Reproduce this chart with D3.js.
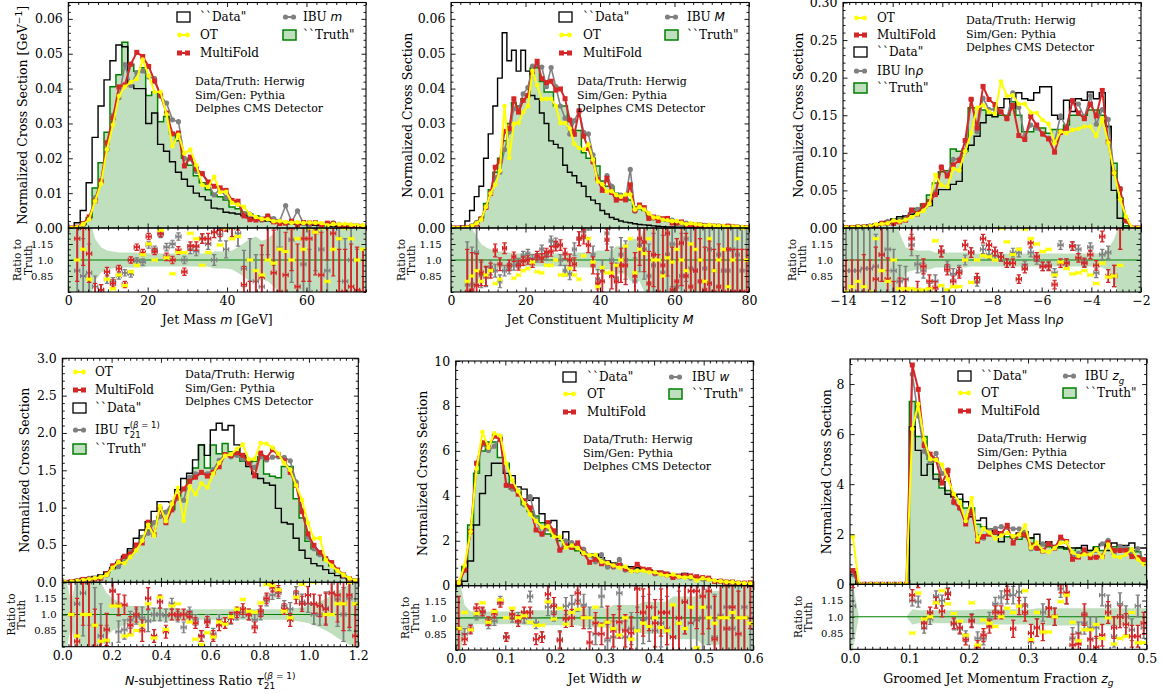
<!DOCTYPE html>
<html>
<head>
<meta charset="utf-8">
<title>Unfolded jet substructure distributions</title>
<script src="https://cdn.jsdelivr.net/npm/d3@7"></script>
<style>
  html, body { margin: 0; padding: 0; background: #fff; }
  svg { display: block; }
</style>
</head>
<body>
<svg id="fig" width="1163" height="694" viewBox="0 0 1163 694"></svg>
<script>
// ---------------- Jet mass m [GeV], 50 bins on [0, 75] ----------------
const massXTicks = [0, 20, 40, 60];
const massYTicks = [0, 0.01, 0.02, 0.03, 0.04, 0.05, 0.06];
const massTruth = [0, 0.0002, 0.001, 0.003, 0.0115, 0.0187, 0.0275, 0.0405, 0.044, 0.0533, 0.047, 0.045, 0.046, 0.038, 0.039, 0.0305, 0.032, 0.027, 0.025, 0.020, 0.018, 0.015, 0.013, 0.011, 0.0095, 0.009, 0.008, 0.006, 0.0055, 0.0045, 0.004, 0.0035, 0.003, 0.0025, 0.002, 0.0018, 0.0016, 0.0015, 0.0014, 0.0013, 0.0012, 0.0012, 0.0011, 0.001, 0.001, 0.0009, 0.0009, 0.0008, 0.0008, 0.0007];
const massData = [0, 0.0015, 0.005, 0.013, 0.026, 0.035, 0.0425, 0.048, 0.0525, 0.052, 0.041, 0.040, 0.040, 0.030, 0.033, 0.024, 0.022, 0.019, 0.016, 0.014, 0.012, 0.010, 0.009, 0.008, 0.0057, 0.0055, 0.0045, 0.0043, 0.004, 0.0035, 0.003, 0.0025, 0.0022, 0.002, 0.0018, 0.0016, 0.0014, 0.0012, 0.0011, 0.001, 0.0009, 0.0008, 0.0007, 0.0006, 0.0005, 0.0005, 0.0004, 0.0003, 0.0003, 0.0002];
const massRatioMF = [null, 1.2, 1.3, 1.06, 0.68, 0.72, 0.89, 0.78, 0.92, 0.77, 1.0, 1.12, 1.07, 1.22, 1.08, 1.25, 1.03, 1.0, 1.09, 0.89, 1.13, 1.13, 1.2, 1.2, 1.26, 1.28, 1.35, 1.32, 1.4, 0.77, 0.6, 0.65, 0.84, 1.35, 0.88, 0.7, 0.86, 1.3, 0.75, 1.2, 1.2, 1.26, 0.86, 1.4, 1.25, 0.7, 0.7, 0.75, 0.72, 0.7];
const massRatioIBU = [null, 0.9, 0.85, 0.88, 0.75, 0.72, 0.82, 0.8, 0.85, 0.88, 0.87, 0.99, 0.98, 1.14, 1.1, 1.24, 1.12, 1.15, 1.22, 1.0, 1.1, 1.08, 1.2, 1.15, 1.0, 1.24, 1.1, 1.3, 1.25, 0.92, 1.0, 0.8, 0.75, 1.4, 1.35, 1.11, 4.0, 1.19, 3.5, 0.96, 0.7, 1.3, 1.1, 0.9, 1.5, 1.2, 0.8, 1.0, 0.7, 0.7];
const massRatioOT = [null, 1.0, 1.1, 0.82, 0.67, 0.68, 0.82, 0.73, 0.86, 0.76, 0.89, 0.95, 1.05, 1.15, 1.0, 1.28, 1.02, 0.87, 1.07, 1.07, 1.25, 1.2, 0.95, 1.07, 1.55, 1.14, 1.3, 1.2, 1.22, 1.35, 1.0, 0.9, 0.86, 1.0, 0.97, 1.1, 1.08, 1.0, 1.2, 1.1, 1.3, 1.26, 1.3, 0.8, 1.1, 1.2, 1.3, 1.2, 1.0, 1.1];
const massErr = [0.4, 0.4, 0.35, 0.27, 0.1, 0.05, 0.04, 0.035, 0.03, 0.03, 0.03, 0.03, 0.03, 0.03, 0.03, 0.03, 0.035, 0.035, 0.035, 0.035, 0.04, 0.04, 0.045, 0.05, 0.05, 0.06, 0.08, 0.1, 0.12, 0.17, 0.2, 0.25, 0.3, 0.35, 0.4, 0.4, 0.4, 0.4, 0.4, 0.4, 0.4, 0.4, 0.4, 0.4, 0.4, 0.4, 0.4, 0.4, 0.4, 0.4];
const massBand = [0.4, 0.4, 0.4, 0.4, 0.2, 0.12, 0.09, 0.08, 0.07, 0.07, 0.07, 0.07, 0.07, 0.06, 0.06, 0.06, 0.06, 0.06, 0.06, 0.06, 0.06, 0.06, 0.06, 0.06, 0.08, 0.08, 0.08, 0.09, 0.12, 0.16, 0.2, 0.22, 0.18, 0.2, 0.25, 0.3, 0.4, 0.4, 0.4, 0.4, 0.4, 0.4, 0.4, 0.4, 0.4, 0.4, 0.4, 0.4, 0.4, 0.4];

// ---------------- Constituent multiplicity M, 64 bins on [0, 80] ----------------
const multXTicks = [0, 20, 40, 60, 80];
const multYTicks = [0, 0.01, 0.02, 0.03, 0.04, 0.05, 0.06];
const multTruth = [0, 0, 0, 0.0002, 0.0007, 0.0015, 0.003, 0.007, 0.011, 0.016, 0.02, 0.025, 0.030, 0.036, 0.035, 0.037, 0.038, 0.046, 0.046, 0.042, 0.039, 0.039, 0.035, 0.035, 0.035, 0.031, 0.028, 0.028, 0.0216, 0.020, 0.02, 0.0178, 0.0135, 0.012, 0.012, 0.010, 0.009, 0.0085, 0.008, 0.006, 0.0055, 0.005, 0.0035, 0.003, 0.003, 0.0028, 0.0022, 0.002, 0.0018, 0.0015, 0.0012, 0.0012, 0.001, 0.001, 0.0008, 0.0007, 0.0007, 0.0006, 0.0005, 0.0005, 0.0004, 0.0003, 0.0002, 0.0001];
const multData = [0, 0, 0.0005, 0.002, 0.005, 0.009, 0.012, 0.020, 0.027, 0.035, 0.043, 0.056, 0.048, 0.051, 0.045, 0.051, 0.045, 0.038, 0.037, 0.033, 0.030, 0.025, 0.024, 0.023, 0.018, 0.016, 0.015, 0.013, 0.012, 0.009, 0.008, 0.007, 0.005, 0.004, 0.003, 0.0025, 0.002, 0.0017, 0.0015, 0.0012, 0.001, 0.0009, 0.0008, 0.0006, 0.0005, 0.0004, 0.0003, 0.0003, 0.0002, 0.0002, 0.0002, 0.0001, 0.0001, 0.0001, 0, 0, 0, 0, 0, 0, 0, 0, 0, 0];
const multRatioMF = [null, null, null, 0.7, 0.72, 0.76, 0.88, 0.85, 0.9, 1.09, 0.96, 1.11, 0.95, 1.03, 0.95, 0.99, 1.0, 0.97, 1.04, 1.02, 1.07, 1.08, 1.13, 1.14, 1.06, 1.0, 0.96, 1.2, 1.22, 1.14, 0.95, 0.78, 0.8, 1.19, 0.85, 0.8, 0.95, 0.95, 1.55, 0.85, 1.2, 1.17, 0.78, 1.05, 0.7, 0.95, 1.25, 0.72, 0.8, 1.16, 0.85, 0.75, 0.9, 0.8, 0.72, 0.78, 0.7, 0.75, 0.7, 1.1, 0.7, 0.7, 0.7, 0.7];
const multRatioIBU = [null, null, null, 0.77, 0.77, 1.07, 0.86, 0.84, 0.93, 0.9, 0.8, 0.9, 0.92, 0.95, 0.97, 1.04, 1.06, 1.01, 1.02, 1.1, 1.04, 1.18, 1.16, 1.0, 0.9, 0.87, 1.1, 1.2, 1.27, 1.35, 1.05, 0.82, 0.9, 1.25, 1.0, 0.83, 1.05, 1.0, 2.1, 0.8, 1.14, 1.1, 0.85, 0.95, 1.0, 0.88, 1.05, 1.15, 0.75, 0.85, 1.2, 0.92, 0.9, 1.0, 0.92, 1.1, 0.9, 1.05, 0.9, 0.9, 1.1, 1.05, 0.9, 1.3];
const multRatioOT = [null, null, null, 0.8, 0.85, 0.9, 0.8, 0.86, 0.9, 0.78, 0.82, 1.4, 0.67, 0.83, 0.86, 0.9, 0.92, 0.98, 0.89, 0.88, 0.95, 0.95, 1.0, 0.86, 0.86, 0.92, 0.86, 0.82, 1.04, 1.2, 0.98, 0.75, 0.93, 0.88, 0.88, 0.95, 1.0, 1.13, 1.2, 0.88, 1.1, 1.06, 1.2, 1.0, 1.0, 0.85, 1.02, 0.98, 1.1, 1.0, 0.9, 1.15, 1.1, 1.0, 0.8, 1.2, 0.9, 1.0, 1.1, 0.75, 1.0, 1.2, 1.3, 1.0];
const multErr = [0.4, 0.4, 0.4, 0.4, 0.35, 0.3, 0.12, 0.09, 0.07, 0.06, 0.06, 0.05, 0.05, 0.045, 0.045, 0.04, 0.04, 0.04, 0.04, 0.04, 0.04, 0.045, 0.045, 0.05, 0.05, 0.055, 0.06, 0.065, 0.07, 0.07, 0.08, 0.09, 0.1, 0.1, 0.12, 0.14, 0.16, 0.18, 0.2, 0.22, 0.25, 0.28, 0.3, 0.3, 0.35, 0.35, 0.4, 0.4, 0.4, 0.4, 0.4, 0.4, 0.4, 0.4, 0.4, 0.4, 0.4, 0.4, 0.4, 0.4, 0.4, 0.4, 0.4, 0.4];
const multBand = [0.4, 0.4, 0.4, 0.4, 0.3, 0.22, 0.15, 0.12, 0.1, 0.08, 0.08, 0.08, 0.07, 0.06, 0.06, 0.06, 0.06, 0.06, 0.06, 0.06, 0.06, 0.06, 0.06, 0.06, 0.06, 0.06, 0.07, 0.07, 0.07, 0.07, 0.07, 0.09, 0.09, 0.09, 0.09, 0.13, 0.13, 0.13, 0.2, 0.2, 0.2, 0.3, 0.3, 0.3, 0.4, 0.4, 0.4, 0.4, 0.4, 0.4, 0.4, 0.4, 0.4, 0.4, 0.4, 0.4, 0.4, 0.4, 0.4, 0.4, 0.4, 0.4, 0.4, 0.4];

// ---------------- Soft drop mass ln(rho), 50 bins on [-14, -2] ----------------
const lnrhoXTicks = [-14, -12, -10, -8, -6, -4, -2];
const lnrhoYTicks = [0, 0.05, 0.10, 0.15, 0.20, 0.25, 0.30];
const lnrhoTruth = [0.001, 0.001, 0.002, 0.002, 0.003, 0.004, 0.006, 0.008, 0.010, 0.012, 0.015, 0.020, 0.026, 0.032, 0.044, 0.060, 0.075, 0.076, 0.105, 0.102, 0.102, 0.160, 0.160, 0.157, 0.150, 0.152, 0.150, 0.150, 0.168, 0.150, 0.128, 0.128, 0.133, 0.133, 0.126, 0.131, 0.131, 0.137, 0.150, 0.150, 0.150, 0.157, 0.157, 0.150, 0.135, 0.086, 0.040, 0.003, 0, 0];
const lnrhoData = [0.001, 0.001, 0.002, 0.003, 0.004, 0.005, 0.007, 0.009, 0.012, 0.015, 0.016, 0.018, 0.022, 0.027, 0.030, 0.045, 0.051, 0.051, 0.058, 0.062, 0.105, 0.110, 0.122, 0.140, 0.150, 0.148, 0.160, 0.172, 0.160, 0.180, 0.172, 0.170, 0.180, 0.188, 0.188, 0.150, 0.145, 0.170, 0.155, 0.172, 0.170, 0.181, 0.172, 0.180, 0.135, 0.050, 0.013, 0, 0, 0];
const lnrhoRatioMF = [0.6, 0.6, 0.6, 0.65, 0.6, 0.82, 1.05, 0.82, 0.6, 0.68, 0.7, 1.2, 0.72, 0.94, 0.8, 0.74, 1.08, 0.91, 0.8, 0.88, 1.14, 1.07, 0.83, 1.2, 1.14, 1.08, 1.03, 0.97, 0.97, 0.82, 0.92, 1.16, 1.03, 0.94, 0.94, 0.77, 0.97, 0.97, 1.13, 1.02, 0.97, 1.05, 0.95, 1.22, 0.85, 0.85, 1.3, 3.3, 1.0, 1.0];
const lnrhoRatioIBU = [0.9, 0.9, 0.9, 0.92, 0.92, 0.94, 1.05, 1.1, 0.9, 0.8, 0.82, 1.14, 0.96, 0.9, 0.72, 0.8, 1.08, 0.94, 0.87, 0.9, 1.0, 1.07, 0.8, 1.1, 1.05, 1.04, 1.03, 0.97, 1.07, 1.07, 0.95, 1.07, 1.0, 0.94, 0.95, 0.88, 1.14, 0.97, 1.13, 1.1, 0.98, 1.12, 0.88, 1.05, 1.07, 0.85, 1.3, 3.0, 1.0, 1.0];
const lnrhoRatioOT = [0.7, 0.75, 0.8, 0.75, 0.7, 1.2, 0.9, 0.8, 1.0, 0.73, 0.73, 0.73, 0.72, 0.72, 0.73, 1.18, 0.76, 0.72, 0.75, 0.75, 1.0, 0.79, 1.0, 1.04, 1.03, 1.0, 1.3, 1.17, 1.05, 1.1, 1.29, 1.2, 1.15, 1.08, 1.1, 0.86, 0.98, 0.92, 0.87, 0.88, 0.9, 0.86, 0.78, 0.97, 0.84, 0.85, 0.95, 5.0, 1.0, 1.0];
const lnrhoErr = [0.4, 0.4, 0.4, 0.4, 0.4, 0.3, 0.25, 0.2, 0.2, 0.15, 0.12, 0.1, 0.08, 0.07, 0.06, 0.06, 0.05, 0.05, 0.05, 0.05, 0.045, 0.045, 0.045, 0.04, 0.04, 0.04, 0.04, 0.04, 0.04, 0.04, 0.04, 0.04, 0.04, 0.04, 0.04, 0.04, 0.04, 0.04, 0.04, 0.04, 0.04, 0.04, 0.045, 0.05, 0.06, 0.1, 0.2, 0.4, 0.4, 0.4];
const lnrhoBand = [0.4, 0.4, 0.4, 0.4, 0.4, 0.4, 0.4, 0.4, 0.4, 0.25, 0.12, 0.1, 0.09, 0.09, 0.09, 0.07, 0.07, 0.07, 0.07, 0.07, 0.07, 0.06, 0.06, 0.06, 0.06, 0.06, 0.06, 0.06, 0.06, 0.06, 0.06, 0.06, 0.06, 0.06, 0.06, 0.06, 0.06, 0.06, 0.06, 0.06, 0.06, 0.06, 0.06, 0.07, 0.1, 0.2, 0.35, 0.4, 0.4, 0.4];

// ---------------- N-subjettiness ratio tau21, 50 bins on [0, 1.2] ----------------
const tauXTicks = [0, 0.2, 0.4, 0.6, 0.8, 1.0, 1.2];
const tauYTicks = [0, 0.5, 1.0, 1.5, 2.0, 2.5, 3.0];
const tauTruth = [0, 0.01, 0.02, 0.03, 0.04, 0.06, 0.09, 0.13, 0.18, 0.25, 0.32, 0.42, 0.50, 0.62, 0.70, 0.80, 0.88, 0.95, 0.97, 1.15, 1.25, 1.38, 1.53, 1.84, 1.53, 1.84, 1.72, 1.86, 1.75, 1.70, 1.62, 1.60, 1.62, 1.68, 1.45, 1.42, 1.40, 1.55, 1.55, 1.12, 0.86, 0.55, 0.45, 0.37, 0.30, 0.22, 0.14, 0.09, 0.04, 0.02];
const tauData = [0.01, 0.02, 0.03, 0.05, 0.06, 0.08, 0.10, 0.14, 0.20, 0.27, 0.35, 0.45, 0.59, 0.70, 0.81, 0.95, 1.08, 1.08, 1.07, 1.24, 1.39, 1.46, 1.64, 1.84, 1.70, 2.04, 2.13, 2.04, 2.10, 1.84, 1.70, 1.55, 1.45, 1.39, 1.33, 1.30, 0.99, 0.80, 0.78, 0.59, 0.43, 0.32, 0.25, 0.22, 0.17, 0.12, 0.09, 0.06, 0.04, 0.02];
const tauRatioMF = [null, 1.0, 0.75, 1.3, 1.0, 0.7, 0.6, 0.86, 1.22, 1.09, 1.09, 0.9, 1.0, 0.85, 1.15, 0.8, 1.12, 0.84, 1.0, 1.0, 1.0, 0.98, 0.92, 0.8, 0.93, 0.8, 0.9, 0.92, 0.97, 1.02, 1.05, 1.0, 0.88, 1.03, 1.15, 1.25, 1.22, 1.05, 0.95, 1.16, 1.1, 1.18, 1.1, 1.08, 1.05, 1.2, 1.18, 1.1, 1.18, 0.8];
const tauRatioIBU = [null, 1.0, 1.1, 1.2, 1.3, 0.9, 0.8, 0.75, 1.22, 0.84, 0.86, 0.95, 0.98, 0.97, 0.94, 1.0, 1.0, 0.99, 1.1, 0.98, 0.88, 1.02, 0.95, 0.8, 0.95, 0.82, 0.95, 0.92, 0.96, 1.0, 1.02, 1.0, 0.95, 1.0, 1.13, 1.18, 1.2, 1.08, 1.05, 1.2, 1.12, 1.1, 1.0, 1.0, 1.06, 1.2, 1.14, 1.0, 1.15, 1.1];
const tauRatioOT = [null, 1.0, 0.8, 1.0, 1.0, 0.9, 0.75, 0.76, 1.08, 1.08, 0.8, 0.81, 0.85, 0.9, 1.1, 0.78, 1.16, 0.86, 1.08, 1.1, 0.66, 0.93, 0.77, 0.72, 0.83, 0.79, 0.93, 0.91, 0.98, 1.05, 1.14, 1.03, 1.02, 1.11, 1.28, 1.27, 1.23, 1.03, 0.97, 1.16, 1.28, 1.45, 1.3, 1.6, 1.0, 1.0, 1.1, 1.1, 1.3, 1.1];
const tauErr = [0.4, 0.4, 0.4, 0.4, 0.4, 0.35, 0.3, 0.15, 0.14, 0.1, 0.09, 0.08, 0.07, 0.1, 0.1, 0.06, 0.06, 0.06, 0.05, 0.05, 0.05, 0.05, 0.05, 0.05, 0.05, 0.05, 0.05, 0.05, 0.05, 0.05, 0.05, 0.05, 0.05, 0.05, 0.05, 0.04, 0.05, 0.05, 0.06, 0.06, 0.07, 0.08, 0.09, 0.1, 0.15, 0.2, 0.25, 0.25, 0.3, 0.3];
const tauBand = [0.4, 0.1, 0.4, 0.4, 0.4, 0.4, 0.3, 0.2, 0.15, 0.12, 0.1, 0.08, 0.08, 0.08, 0.08, 0.06, 0.06, 0.06, 0.06, 0.06, 0.05, 0.05, 0.05, 0.05, 0.05, 0.05, 0.05, 0.05, 0.05, 0.05, 0.05, 0.05, 0.05, 0.05, 0.05, 0.05, 0.05, 0.05, 0.06, 0.06, 0.07, 0.08, 0.1, 0.12, 0.15, 0.18, 0.22, 0.25, 0.28, 0.3];

// ---------------- Jet width w, 50 bins on [0, 0.6] ----------------
const widthXTicks = [0, 0.1, 0.2, 0.3, 0.4, 0.5, 0.6];
const widthYTicks = [0, 2, 4, 6, 8, 10];
const widthTruth = [0.15, 0.86, 2.7, 5.0, 6.0, 6.4, 6.4, 5.7, 5.45, 4.3, 4.2, 3.6, 3.3, 3.1, 2.8, 2.3, 2.2, 2.0, 1.8, 1.7, 1.55, 1.45, 1.35, 1.25, 1.15, 1.05, 1.0, 0.95, 0.85, 0.8, 0.75, 0.7, 0.65, 0.6, 0.55, 0.5, 0.45, 0.42, 0.4, 0.35, 0.32, 0.3, 0.27, 0.24, 0.2, 0.17, 0.15, 0.13, 0.11, 0.1];
const widthData = [0.05, 0.2, 1.1, 2.7, 4.1, 4.9, 5.45, 5.45, 5.0, 4.9, 4.4, 4.3, 3.8, 3.9, 3.2, 2.8, 2.9, 2.1, 2.4, 1.8, 1.7, 1.45, 1.4, 1.4, 1.25, 1.1, 1.0, 0.95, 0.85, 0.85, 0.8, 0.75, 0.7, 0.65, 0.6, 0.55, 0.45, 0.5, 0.55, 0.4, 0.35, 0.33, 0.3, 0.27, 0.23, 0.2, 0.17, 0.15, 0.13, 0.12];
const widthRatioMF = [0.9, 0.8, 0.89, 1.09, 1.06, 0.97, 1.04, 1.14, 0.82, 1.03, 0.97, 1.05, 1.05, 0.80, 0.82, 1.22, 1.11, 0.79, 0.99, 1.0, 1.23, 1.0, 0.77, 0.95, 0.85, 0.96, 0.88, 0.96, 0.88, 0.86, 1.27, 1.05, 1.1, 0.95, 1.05, 1.05, 0.82, 1.0, 1.15, 1.25, 1.25, 1.2, 1.25, 0.8, 1.0, 0.9, 1.1, 0.85, 1.0, 1.3];
const widthRatioIBU = [0.9, 0.85, 0.9, 1.02, 1.05, 0.94, 0.97, 1.16, 0.82, 1.0, 1.0, 1.0, 1.2, 0.95, 0.82, 1.1, 1.05, 0.8, 1.11, 1.13, 1.16, 1.12, 1.0, 0.85, 1.2, 0.79, 0.82, 1.23, 0.82, 0.9, 0.88, 0.98, 1.0, 0.88, 0.95, 0.9, 0.82, 0.95, 1.15, 0.95, 0.98, 1.0, 1.1, 0.82, 1.02, 1.1, 0.9, 1.0, 1.1, 1.0];
const widthRatioOT = [0.9, 1.05, 0.89, 1.04, 1.14, 0.96, 1.06, 1.17, 1.0, 1.09, 1.0, 1.02, 0.96, 0.93, 0.93, 1.15, 0.99, 1.09, 0.94, 1.05, 1.08, 1.0, 1.0, 1.1, 0.93, 0.96, 0.9, 0.84, 1.0, 0.8, 0.88, 0.95, 0.92, 1.0, 0.91, 0.88, 1.12, 0.95, 0.9, 1.1, 0.72, 1.1, 1.0, 0.95, 1.0, 1.0, 1.05, 1.0, 1.0, 0.95];
const widthErr = [0.3, 0.05, 0.04, 0.04, 0.04, 0.04, 0.04, 0.04, 0.04, 0.04, 0.05, 0.05, 0.05, 0.05, 0.05, 0.08, 0.08, 0.08, 0.08, 0.08, 0.1, 0.1, 0.1, 0.1, 0.1, 0.15, 0.15, 0.15, 0.15, 0.15, 0.22, 0.22, 0.22, 0.22, 0.22, 0.3, 0.3, 0.3, 0.3, 0.3, 0.35, 0.35, 0.35, 0.4, 0.4, 0.4, 0.4, 0.4, 0.4, 0.4];
const widthBand = [0.4, 0.12, 0.06, 0.06, 0.06, 0.06, 0.06, 0.06, 0.06, 0.06, 0.06, 0.07, 0.07, 0.07, 0.07, 0.07, 0.07, 0.07, 0.07, 0.07, 0.07, 0.09, 0.09, 0.09, 0.09, 0.09, 0.12, 0.12, 0.12, 0.12, 0.12, 0.15, 0.15, 0.15, 0.15, 0.15, 0.2, 0.2, 0.2, 0.2, 0.2, 0.25, 0.25, 0.25, 0.25, 0.35, 0.35, 0.35, 0.35, 0.35];

// ---------------- Groomed momentum fraction z_g, 50 bins on [0, 0.5] ----------------
const zgXTicks = [0, 0.1, 0.2, 0.3, 0.4, 0.5];
const zgYTicks = [0, 2, 4, 6, 8];
const zgTruth = [0.35, 0, 0, 0, 0, 0, 0, 0, 0, 0, 7.3, 5.9, 5.9, 5.0, 4.4, 3.85, 3.75, 3.5, 3.4, 3.05, 3.05, 2.4, 2.3, 2.2, 2.0, 1.95, 1.9, 1.85, 1.8, 1.9, 1.85, 1.6, 1.55, 1.5, 1.45, 1.45, 1.4, 1.35, 1.45, 1.35, 1.35, 1.5, 1.35, 1.6, 1.5, 1.35, 1.45, 1.35, 1.3, 1.05];
const zgData = [0.5, 0, 0, 0, 0, 0, 0, 0, 0, 0, 6.3, 5.35, 4.35, 4.8, 4.2, 4.1, 3.6, 3.5, 3.6, 3.3, 2.7, 2.55, 2.65, 2.2, 2.1, 1.7, 2.0, 1.95, 2.05, 2.1, 1.85, 2.0, 1.6, 1.7, 1.55, 1.5, 1.45, 1.45, 1.45, 1.55, 1.35, 1.45, 1.6, 1.35, 1.65, 1.55, 1.55, 1.65, 1.45, 1.45];
const zgRatioMF = [1.57, null, null, null, null, null, null, null, null, null, 1.2, 1.32, 0.94, 1.04, 1.13, 1.05, 1.21, 0.94, 0.9, 0.79, 0.96, 0.72, 0.83, 0.91, 1.04, 1.04, 1.24, 0.89, 1.1, 1.04, 0.85, 0.9, 0.86, 1.08, 1.0, 1.3, 1.22, 0.74, 0.75, 1.02, 0.79, 0.72, 0.83, 1.04, 0.9, 1.0, 0.93, 0.82, 0.82, 0.94];
const zgRatioIBU = [1.1, null, null, null, null, null, null, null, null, null, 1.15, 1.14, 0.9, 0.98, 1.19, 1.15, 1.22, 0.93, 0.89, 0.82, 0.97, 0.8, 0.8, 0.98, 1.12, 1.18, 1.2, 1.2, 1.23, 1.1, 0.77, 0.9, 1.04, 1.08, 1.0, 1.26, 1.22, 0.8, 0.85, 0.94, 0.9, 0.9, 1.2, 1.1, 0.82, 1.12, 1.0, 0.88, 1.1, 0.9];
const zgRatioOT = [5.4, null, null, null, null, null, null, null, null, null, 0.85, 1.22, 0.98, 1.0, 1.13, 1.24, 1.12, 1.03, 0.96, 0.83, 1.13, 0.74, 0.97, 0.94, 0.91, 1.0, 1.08, 1.04, 1.1, 1.24, 0.79, 1.04, 0.86, 0.86, 1.0, 1.14, 1.2, 0.95, 0.78, 0.88, 0.88, 0.93, 0.8, 0.99, 0.75, 0.8, 0.82, 1.04, 0.76, 0.76];
const zgErr = [0.3, null, null, null, null, null, null, null, null, null, 0.05, 0.05, 0.05, 0.05, 0.05, 0.05, 0.05, 0.05, 0.05, 0.05, 0.06, 0.06, 0.06, 0.06, 0.06, 0.06, 0.08, 0.08, 0.08, 0.08, 0.08, 0.08, 0.08, 0.08, 0.08, 0.08, 0.1, 0.1, 0.1, 0.1, 0.1, 0.1, 0.1, 0.1, 0.1, 0.1, 0.1, 0.1, 0.1, 0.1];
const zgBand = [0.3, 0, null, null, null, null, null, null, null, 0, 0.07, 0.06, 0.06, 0.06, 0.06, 0.06, 0.06, 0.06, 0.06, 0.06, 0.06, 0.07, 0.07, 0.07, 0.07, 0.07, 0.07, 0.07, 0.07, 0.07, 0.07, 0.08, 0.08, 0.08, 0.08, 0.08, 0.08, 0.08, 0.08, 0.08, 0.08, 0.08, 0.08, 0.08, 0.08, 0.08, 0.08, 0.08, 0.08, 0.08];

const ratioTicks = [0.85, 1.0, 1.15];
const infoLines = ['Data/Truth: Herwig', 'Sim/Gen: Pythia', 'Delphes CMS Detector'];

// ---------------- styling ----------------
const SERIF = "'DejaVu Serif', 'Liberation Serif', serif";
const SANS = "'DejaVu Sans', 'Liberation Sans', sans-serif";
const COL = { fill: '#bfdfbf', edge: '#008000', red: '#d62728', gray: '#808080', yellow: '#ffff00', black: '#000' };

const svg = d3.select('#fig');
const defs = svg.append('defs');
const meter = svg.append('text').attr('x', -2000).attr('y', -2000);
const keepSpaces = t => t.replace(/ /g, '\u00a0');

function textWidth(t, fam, size, it) {
  meter.attr('font-family', fam).attr('font-size', size).attr('font-style', it ? 'italic' : 'normal').text(t);
  return meter.node().getComputedTextLength();
}

// Text made of runs (serif words, sans italic math symbols, sub/superscripts).
function rich(parent, x, y, segs, opt = {}) {
  const base = opt.size || 12.5;
  let lastEnd = 0, stackStart = 0, total = 0;
  const laid = segs.map(s => {
    const fam = s.fam || SERIF, size = s.size || base, t = keepSpaces(s.t);
    const x0 = s.stack ? stackStart : lastEnd;
    if (s.mark) stackStart = x0;
    lastEnd = x0 + textWidth(t, fam, size, s.it);
    total = Math.max(total, lastEnd);
    return Object.assign({}, s, { t, fam, size, x0 });
  });
  const off = opt.anchor === 'middle' ? -total / 2 : opt.anchor === 'end' ? -total : 0;
  const grp = parent.append('g')
    .attr('transform', `translate(${x},${y})` + (opt.rotate ? ` rotate(${opt.rotate})` : ''));
  grp.selectAll('text').data(laid).join('text')
    .attr('x', d => d.x0 + off).attr('y', d => d.dy || 0)
    .attr('font-family', d => d.fam).attr('font-size', d => d.size)
    .attr('font-style', d => d.it ? 'italic' : 'normal')
    .attr('fill', '#000').text(d => d.t);
  return grp;
}

const sub = (t, extra = {}) => Object.assign({ t, fam: SANS, size: 8.5, dy: 3.5, mark: true }, extra);
const tauSym = size => [
  { t: 'τ', fam: SANS, it: true },
  { t: '21', fam: SANS, size: size, dy: 4, mark: true },
  { t: '(', fam: SANS, size: size, dy: -6, stack: true },
  { t: 'β', fam: SANS, size: size, dy: -6, it: true },
  { t: ' = 1)', fam: SANS, size: size, dy: -6 }
];

const panels = [
  {
    lo: 0, hi: 75, truth: massTruth, data: massData, mf: massRatioMF, ibu: massRatioIBU, ot: massRatioOT, err: massErr, band: massBand,
    box: { x0: 68.3, x1: 366, top: 2.5, mid: 228, bot: 292 }, yMax: 0.0647,
    yTicks: massYTicks, yFmt: d3.format('.2f'), yMinor: 0.002, xTicks: massXTicks, xFmt: d3.format('d'), xMinor: 2.5,
    rPad: 15, yLabX: 22, rLabX: 17.5, xLabY: 323.8,
    yLab: [{ t: 'Normalized Cross Section [GeV' }, { t: '−1', fam: SANS, size: 9, dy: -5 }, { t: ']' }],
    xLab: [{ t: 'Jet Mass ' }, { t: 'm', fam: SANS, it: true }, { t: ' [GeV]' }],
    ibuLab: [{ t: 'IBU ' }, { t: 'm', fam: SANS, it: true }],
    legend: [{ hx: 177, tx: 200, rows: [['data', 17], ['ot', 35], ['mf', 53]] }, { hx: 283, tx: 303, rows: [['ibu', 17], ['truth', 35]] }],
    info: { x: 195, y: 85 }
  },
  {
    lo: 0, hi: 80, truth: multTruth, data: multData, mf: multRatioMF, ibu: multRatioIBU, ot: multRatioOT, err: multErr, band: multBand,
    box: { x0: 451, x1: 749, top: 2.5, mid: 228, bot: 292 }, yMax: 0.0647,
    yTicks: multYTicks, yFmt: d3.format('.2f'), yMinor: 0.002, xTicks: multXTicks, xFmt: d3.format('d'), xMinor: 2.5,
    rPad: 9.3, yLabX: 407, rLabX: 401, xLabY: 323.8,
    yLab: [{ t: 'Normalized Cross Section' }],
    xLab: [{ t: 'Jet Constituent Multiplicity ' }, { t: 'M', fam: SANS, it: true }],
    ibuLab: [{ t: 'IBU ' }, { t: 'M', fam: SANS, it: true }],
    legend: [{ hx: 559, tx: 583, rows: [['data', 17], ['ot', 35], ['mf', 53]] }, { hx: 665, tx: 687, rows: [['ibu', 17], ['truth', 35]] }],
    info: { x: 577, y: 85 }
  },
  {
    lo: -14, hi: -2, truth: lnrhoTruth, data: lnrhoData, mf: lnrhoRatioMF, ibu: lnrhoRatioIBU, ot: lnrhoRatioOT, err: lnrhoErr, band: lnrhoBand,
    box: { x0: 843, x1: 1141, top: 2.5, mid: 228, bot: 292 }, yMax: 0.30,
    yTicks: lnrhoYTicks, yFmt: d3.format('.2f'), yMinor: 0.01, xTicks: lnrhoXTicks, xFmt: d3.format('d'), xMinor: 0.25,
    rPad: 10, yLabX: 798, rLabX: 792, xLabY: 323.8,
    yLab: [{ t: 'Normalized Cross Section' }],
    xLab: [{ t: 'Soft Drop Jet Mass ' }, { t: 'ln', fam: SANS }, { t: 'ρ', fam: SANS, it: true }],
    ibuLab: [{ t: 'IBU ' }, { t: 'ln', fam: SANS }, { t: 'ρ', fam: SANS, it: true }],
    legend: [{ hx: 854, tx: 877, rows: [['ot', 18], ['mf', 35], ['data', 52], ['ibu', 71], ['truth', 88]] }],
    info: { x: 966, y: 24 }
  },
  {
    lo: 0, hi: 1.2, truth: tauTruth, data: tauData, mf: tauRatioMF, ibu: tauRatioIBU, ot: tauRatioOT, err: tauErr, band: tauBand,
    box: { x0: 62.3, x1: 358.3, top: 358.3, mid: 582.3, bot: 646.7 }, yMax: 3.0,
    yTicks: tauYTicks, yFmt: d3.format('.1f'), yMinor: 0.1, xTicks: tauXTicks, xFmt: d3.format('.1f'), xMinor: 0.025,
    rPad: 5.7, yLabX: 24, rLabX: 11, xLabY: 684.5,
    yLab: [{ t: 'Normalized Cross Section' }],
    xLab: [{ t: 'N', fam: SANS, it: true }, { t: '-subjettiness Ratio ' }].concat(tauSym(9)),
    ibuLab: [{ t: 'IBU ' }].concat(tauSym(8.5)),
    legend: [{ hx: 73, tx: 95, rows: [['ot', 372], ['mf', 390], ['data', 408], ['ibu', 430], ['truth', 449]] }],
    info: { x: 185, y: 378 }
  },
  {
    lo: 0, hi: 0.6, truth: widthTruth, data: widthData, mf: widthRatioMF, ibu: widthRatioIBU, ot: widthRatioOT, err: widthErr, band: widthBand,
    box: { x0: 455.7, x1: 753.3, top: 361, mid: 585.7, bot: 650 }, yMax: 10,
    yTicks: widthYTicks, yFmt: d3.format('d'), yMinor: 0.4, xTicks: widthXTicks, xFmt: d3.format('.1f'), xMinor: 0.0125,
    rPad: 9, yLabX: 422, rLabX: 405, xLabY: 682.5,
    yLab: [{ t: 'Normalized Cross Section' }],
    xLab: [{ t: 'Jet Width ' }, { t: 'w', fam: SANS, it: true }],
    ibuLab: [{ t: 'IBU ' }, { t: 'w', fam: SANS, it: true }],
    legend: [{ hx: 563, tx: 587, rows: [['data', 377], ['ot', 394], ['mf', 412]] }, { hx: 669, tx: 692, rows: [['ibu', 377], ['truth', 394]] }],
    info: { x: 583, y: 443 }
  },
  {
    lo: 0, hi: 0.5, truth: zgTruth, data: zgData, mf: zgRatioMF, ibu: zgRatioIBU, ot: zgRatioOT, err: zgErr, band: zgBand,
    box: { x0: 850, x1: 1146.7, top: 359, mid: 584.3, bot: 649.3 }, yMax: 9,
    yTicks: zgYTicks, yFmt: d3.format('d'), yMinor: 0.4, xTicks: zgXTicks, xFmt: d3.format('.1f'), xMinor: 0.0125,
    rPad: 6.7, yLabX: 826, rLabX: 798, xLabY: 682.5,
    yLab: [{ t: 'Normalized Cross Section' }],
    xLab: [{ t: 'Groomed Jet Momentum Fraction ' }, { t: 'z', fam: SANS, it: true }, sub('g', { it: true, size: 9 })],
    ibuLab: [{ t: 'IBU ' }, { t: 'z', fam: SANS, it: true }, sub('g', { it: true })],
    legend: [{ hx: 958, tx: 981, rows: [['data', 376], ['ot', 393], ['mf', 411]] }, { hx: 1063, tx: 1085, rows: [['ibu', 376], ['truth', 393]] }],
    info: { x: 977, y: 442 }
  }
];

function minorValues(lo, hi, step, majors) {
  const k0 = Math.ceil(lo / step - 1e-9), k1 = Math.floor(hi / step + 1e-9);
  return d3.range(k0, k1 + 1).map(k => k * step)
    .filter(v => !majors.some(m => Math.abs(m - v) < step * 1e-3));
}

function axisPart(g, maker, scale, vals, size, tx, ty, fmt, pad, fs) {
  const ax = maker(scale).tickValues(vals).tickSize(size).tickPadding(pad || 0)
    .tickFormat(fmt || (() => ''));
  const a = g.append('g').attr('transform', `translate(${tx},${ty})`).call(ax);
  a.select('.domain').remove();
  a.selectAll('line').attr('stroke', '#000').attr('stroke-width', 0.9);
  a.selectAll('text').attr('font-family', SERIF).attr('font-size', fs || 12.5).attr('fill', '#000');
  return a;
}

function square(sel, cx, cy, s, color) {
  sel.append('rect').attr('x', cx - s / 2).attr('y', cy - s / 2).attr('width', s).attr('height', s).attr('fill', color);
}

function legendHandle(g, type, hx, cy) {
  if (type === 'data') {
    g.append('rect').attr('x', hx).attr('y', cy - 5).attr('width', 13).attr('height', 10)
      .attr('fill', '#fff').attr('stroke', COL.black).attr('stroke-width', 1.3);
  } else if (type === 'truth') {
    g.append('rect').attr('x', hx).attr('y', cy - 5).attr('width', 13).attr('height', 10)
      .attr('fill', COL.fill).attr('stroke', COL.edge).attr('stroke-width', 1.5);
  } else {
    const color = type === 'ot' ? COL.yellow : type === 'mf' ? COL.red : COL.gray;
    g.append('line').attr('x1', hx + 2).attr('x2', hx + 11).attr('y1', cy).attr('y2', cy)
      .attr('stroke', color).attr('stroke-width', 2);
    [hx + 2.5, hx + 10.5].forEach(mx => {
      if (type === 'mf') square(g, mx, cy, 5, color);
      else g.append('circle').attr('cx', mx).attr('cy', cy).attr('r', type === 'ot' ? 2.4 : 2.6).attr('fill', color);
    });
  }
}

panels.forEach((p, idx) => {
  const n = p.truth.length, bw = (p.hi - p.lo) / n;
  const edges = d3.range(n + 1).map(i => p.lo + i * bw);
  const centers = d3.range(n).map(i => p.lo + (i + 0.5) * bw);
  const b = p.box;
  const x = d3.scaleLinear().domain([p.lo, p.hi]).range([b.x0, b.x1]);
  const y = d3.scaleLinear().domain([0, p.yMax]).range([b.mid, b.top]);
  const ry = d3.scaleLinear().domain([0.7, 1.3]).range([b.bot, b.mid]);
  const g = svg.append('g');

  defs.append('clipPath').attr('id', `cm${idx}`).append('rect')
    .attr('x', b.x0).attr('y', b.top).attr('width', b.x1 - b.x0).attr('height', b.mid - b.top);
  defs.append('clipPath').attr('id', `cr${idx}`).append('rect')
    .attr('x', b.x0).attr('y', b.mid).attr('width', b.x1 - b.x0).attr('height', b.bot - b.mid);

  // ---- main panel: histograms and unfolded curves ----
  const main = g.append('g').attr('clip-path', `url(#cm${idx})`);
  const stepPts = vals => [[p.lo, 0]].concat(vals.map((v, i) => [edges[i], v]), [[p.hi, vals[n - 1]], [p.hi, 0]]);
  const stepArea = d3.area().curve(d3.curveStepAfter).x(d => x(d[0])).y0(y(0)).y1(d => y(d[1]));
  const stepLine = d3.line().curve(d3.curveStepAfter).x(d => x(d[0])).y(d => y(d[1]));
  main.append('path').attr('d', stepArea(stepPts(p.truth))).attr('fill', COL.fill);
  main.append('path').attr('d', stepLine(stepPts(p.truth))).attr('fill', 'none')
    .attr('stroke', COL.edge).attr('stroke-width', 1.5);
  main.append('path').attr('d', stepLine(stepPts(p.data))).attr('fill', 'none')
    .attr('stroke', COL.black).attr('stroke-width', 1.4);

  const unfolded = r => p.truth.map((t, i) => (t > 0 && r[i] != null) ? t * r[i] : 0);
  const curve = d3.line().x((d, i) => x(centers[i])).y(d => y(d));
  const series = [
    { vals: unfolded(p.ibu), color: COL.gray, w: 1.6, mark: 'c', r: 2.6 },
    { vals: unfolded(p.mf), color: COL.red, w: 2.0, mark: 's', r: 5 },
    { vals: unfolded(p.ot), color: COL.yellow, w: 2.0, mark: 'c', r: 2.3 }
  ];
  series.forEach(s => {
    main.append('path').attr('d', curve(s.vals)).attr('fill', 'none')
      .attr('stroke', s.color).attr('stroke-width', s.w).attr('stroke-linejoin', 'round');
    const pts = s.vals.map((v, i) => ({ cx: x(centers[i]), cy: y(v) }));
    if (s.mark === 's') {
      main.append('g').selectAll('rect').data(pts).join('rect')
        .attr('x', d => d.cx - s.r / 2).attr('y', d => d.cy - s.r / 2)
        .attr('width', s.r).attr('height', s.r).attr('fill', s.color);
    } else {
      main.append('g').selectAll('circle').data(pts).join('circle')
        .attr('cx', d => d.cx).attr('cy', d => d.cy).attr('r', s.r).attr('fill', s.color);
    }
  });

  // ---- ratio panel ----
  const rat = g.append('g').attr('clip-path', `url(#cr${idx})`);
  const bandPts = [];
  p.band.forEach((h, i) => {
    if (h == null) { bandPts.push(null); return; }
    if (i === 0) bandPts.push({ v: p.lo, h });
    bandPts.push({ v: centers[i], h });
    if (i === n - 1) bandPts.push({ v: p.hi, h });
  });
  const bandArea = d3.area().defined(d => d !== null)
    .x(d => x(d.v)).y0(d => ry(1 - d.h)).y1(d => ry(1 + d.h));
  rat.append('path').attr('d', bandArea(bandPts)).attr('fill', COL.fill);
  rat.append('line').attr('x1', b.x0).attr('x2', b.x1).attr('y1', ry(1)).attr('y2', ry(1))
    .attr('stroke', COL.edge).attr('stroke-width', 1.1);

  const errPoints = r => d3.range(n)
    .filter(i => r[i] != null && p.truth[i] > 0)
    .map(i => ({ xl: x(edges[i]) + 0.4, xr: x(edges[i + 1]) - 0.4, xc: x(centers[i]), r: r[i], e: p.err[i] }));

  function drawErr(r, color, withY, hw) {
    const pts = errPoints(r);
    const eg = rat.append('g').attr('stroke', color).attr('fill', 'none');
    eg.selectAll('line.h').data(pts).join('line').attr('class', 'h')
      .attr('x1', d => d.xl).attr('x2', d => d.xr).attr('y1', d => ry(d.r)).attr('y2', d => ry(d.r))
      .attr('stroke-width', hw);
    eg.selectAll('path.xc').data(pts).join('path').attr('class', 'xc')
      .attr('d', d => `M${d.xl},${ry(d.r) - 2.2}V${ry(d.r) + 2.2}M${d.xr},${ry(d.r) - 2.2}V${ry(d.r) + 2.2}`)
      .attr('stroke-width', 1.2);
    if (withY) {
      const yp = pts.filter(d => d.e != null);
      eg.selectAll('line.v').data(yp).join('line').attr('class', 'v')
        .attr('x1', d => d.xc).attr('x2', d => d.xc)
        .attr('y1', d => ry(d.r - d.e)).attr('y2', d => ry(d.r + d.e)).attr('stroke-width', 1.8);
      eg.selectAll('path.yc').data(yp).join('path').attr('class', 'yc')
        .attr('d', d => `M${d.xc - 2.2},${ry(d.r - d.e)}H${d.xc + 2.2}M${d.xc - 2.2},${ry(d.r + d.e)}H${d.xc + 2.2}`)
        .attr('stroke-width', 1.2);
    }
  }
  drawErr(p.ibu, COL.gray, true, 1.8);
  drawErr(p.mf, COL.red, true, 1.8);
  drawErr(p.ot, COL.yellow, false, 3);

  // ---- ticks (inward on all sides) ----
  const ax = svg.append('g');
  const yMin = minorValues(0, p.yMax, p.yMinor, p.yTicks);
  const xMin = minorValues(p.lo, p.hi, p.xMinor, p.xTicks);
  const rMin = minorValues(0.7, 1.3, 0.05, ratioTicks);
  const T = 4.5, t = 2.5;
  axisPart(ax, d3.axisLeft, y, p.yTicks, -T, b.x0, 0, p.yFmt, 5.5);
  axisPart(ax, d3.axisLeft, y, yMin, -t, b.x0, 0);
  axisPart(ax, d3.axisRight, y, p.yTicks, -T, b.x1, 0);
  axisPart(ax, d3.axisRight, y, yMin, -t, b.x1, 0);
  axisPart(ax, d3.axisTop, x, p.xTicks, -T, 0, b.top);
  axisPart(ax, d3.axisTop, x, xMin, -t, 0, b.top);
  axisPart(ax, d3.axisBottom, x, p.xTicks, -T, 0, b.mid);
  axisPart(ax, d3.axisBottom, x, xMin, -t, 0, b.mid);
  axisPart(ax, d3.axisLeft, ry, ratioTicks, -T, b.x0, 0, v => (v === 1 ? '1.0' : v.toFixed(2)), p.rPad, 10);
  axisPart(ax, d3.axisLeft, ry, rMin, -t, b.x0, 0);
  axisPart(ax, d3.axisRight, ry, ratioTicks, -T, b.x1, 0);
  axisPart(ax, d3.axisRight, ry, rMin, -t, b.x1, 0);
  axisPart(ax, d3.axisTop, x, p.xTicks, -T, 0, b.mid);
  axisPart(ax, d3.axisTop, x, xMin, -t, 0, b.mid);
  axisPart(ax, d3.axisBottom, x, p.xTicks, -T, 0, b.bot, p.xFmt, 4.5);
  axisPart(ax, d3.axisBottom, x, xMin, -t, 0, b.bot);

  // frames
  ax.append('rect').attr('x', b.x0).attr('y', b.top).attr('width', b.x1 - b.x0).attr('height', b.mid - b.top)
    .attr('fill', 'none').attr('stroke', '#000').attr('stroke-width', 1.1);
  ax.append('rect').attr('x', b.x0).attr('y', b.mid).attr('width', b.x1 - b.x0).attr('height', b.bot - b.mid)
    .attr('fill', 'none').attr('stroke', '#000').attr('stroke-width', 1.1);

  // ---- labels ----
  rich(svg, p.yLabX + 4.5, (b.top + b.mid) / 2, p.yLab, { anchor: 'middle', rotate: -90 });
  rich(svg, p.rLabX + 3.8, (b.mid + b.bot) / 2, [{ t: 'Ratio to' }], { anchor: 'middle', rotate: -90, size: 10.5 });
  rich(svg, p.rLabX + 14.3, (b.mid + b.bot) / 2, [{ t: 'Truth' }], { anchor: 'middle', rotate: -90, size: 10.5 });
  rich(svg, (b.x0 + b.x1) / 2, p.xLabY, p.xLab, { anchor: 'middle' });

  // ---- legend ----
  const lg = svg.append('g');
  const labels = { data: [{ t: '``Data"' }], ot: [{ t: 'OT' }], mf: [{ t: 'MultiFold' }], ibu: p.ibuLab, truth: [{ t: '``Truth"' }] };
  p.legend.forEach(col => col.rows.forEach(([type, cy]) => {
    legendHandle(lg, type, col.hx, cy);
    rich(lg, col.tx, cy + 4.3, labels[type], { size: 12 });
  }));

  // ---- sample description ----
  svg.append('g').selectAll('text').data(infoLines).join('text')
    .attr('x', p.info.x).attr('y', (d, i) => p.info.y + i * 13.5)
    .attr('font-family', SERIF).attr('font-size', 11).attr('fill', '#000').text(d => d);
});
meter.remove();
</script>
</body>
</html>
